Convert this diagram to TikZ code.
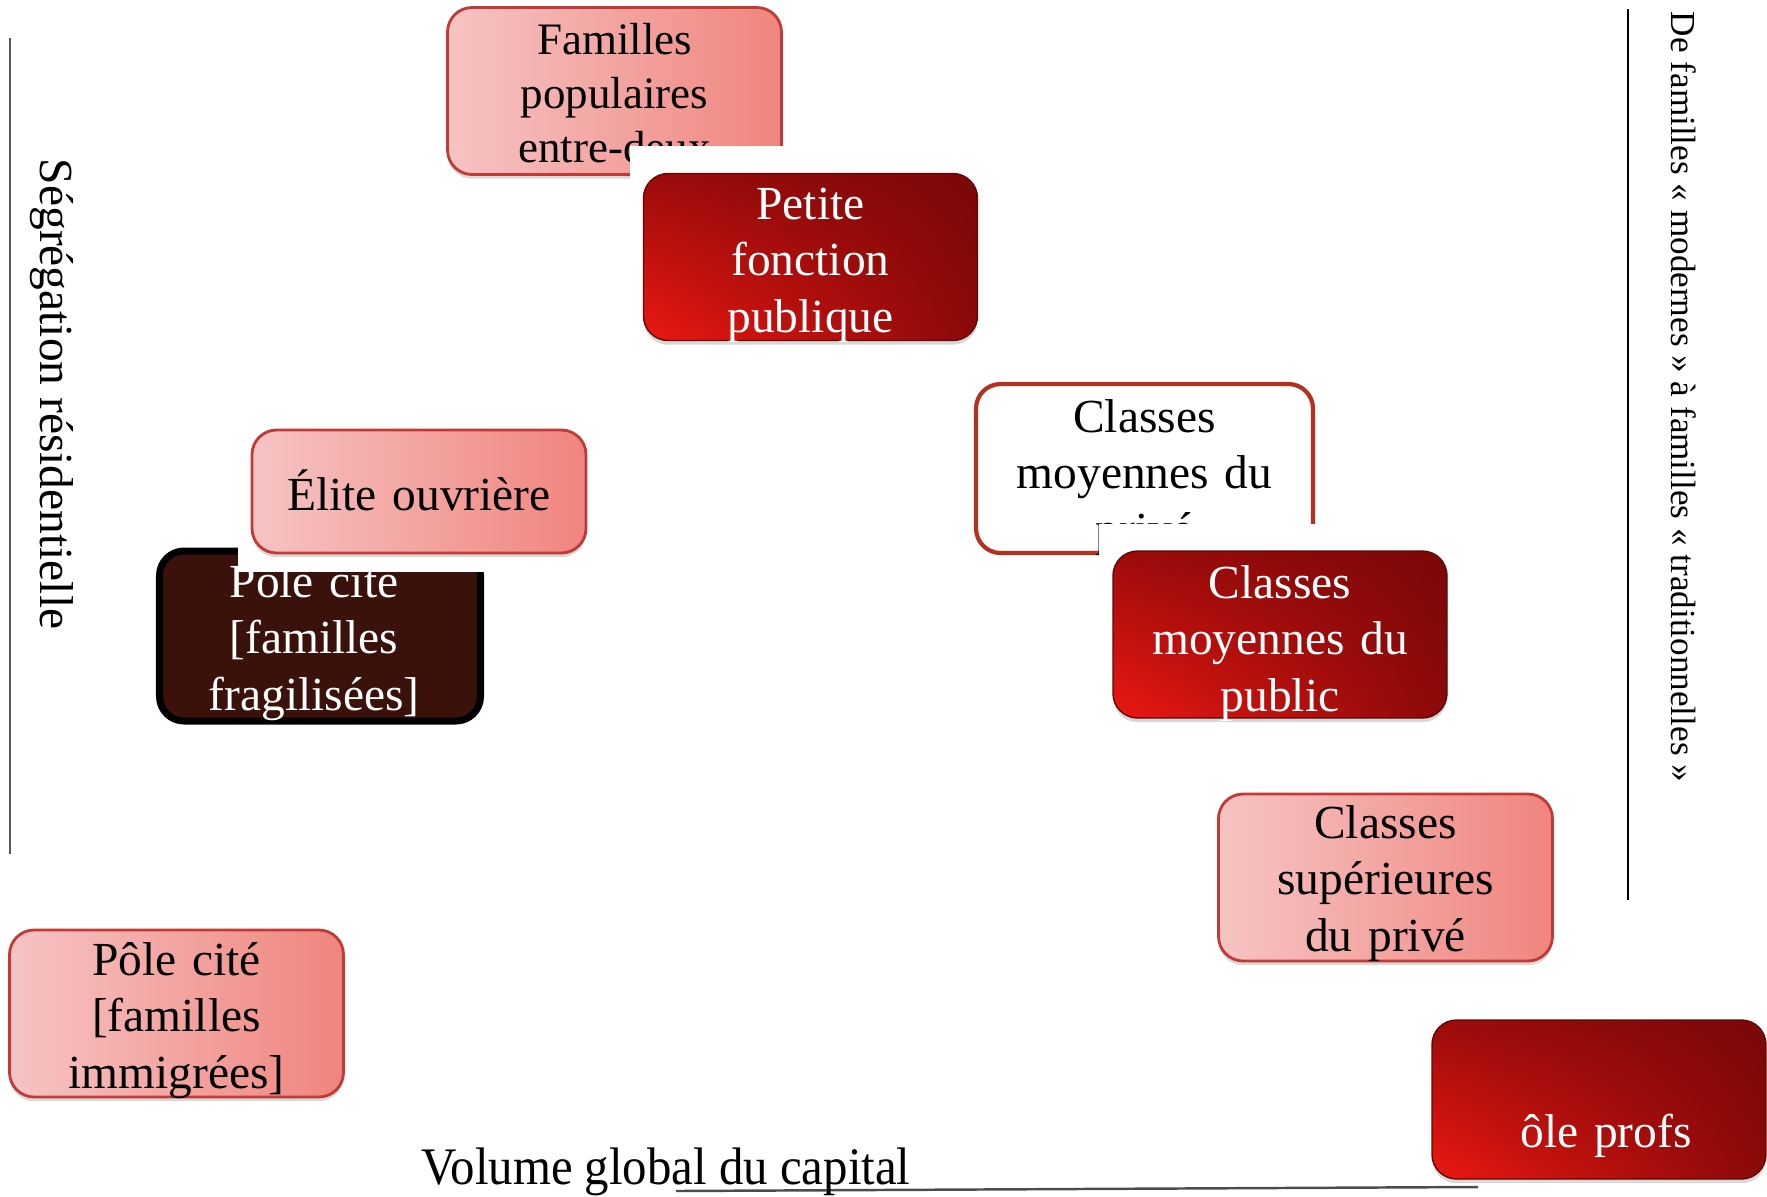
\documentclass[tikz,border=0pt]{standalone}
\usepackage{fontspec}
\setmainfont{Liberation Serif}
\usetikzlibrary{shadows,shadings}

\definecolor{pinkL}{HTML}{F6C4C4}
\definecolor{pinkR}{HTML}{F0857E}
\definecolor{pinkEdge}{HTML}{C23A36}
\definecolor{redUL}{HTML}{9C0B0B}
\definecolor{redLL}{HTML}{EC1812}
\definecolor{redUR}{HTML}{7A0808}
\definecolor{redLR}{HTML}{8A0909}
\definecolor{brownFill}{HTML}{3B110B}
\definecolor{rustEdge}{HTML}{B5301F}

\begin{document}
\begin{tikzpicture}[x=0.1mm, y=-0.1mm,
  every node/.style={inner sep=0pt},
  box/.style={rectangle, rounded corners=7pt, minimum width=33.4mm, minimum height=16.7mm},
  pinkbox/.style={box, draw=pinkEdge, line width=0.8pt, left color=pinkL, right color=pinkR,
    drop shadow={shadow xshift=0pt, shadow yshift=-1.2pt, opacity=0.3}},
  redbox/.style={box, draw=redUR!80!black, line width=0.4pt, upper left=redUL, lower left=redLL,
    upper right=redUR, lower right=redLR,
    drop shadow={shadow xshift=0pt, shadow yshift=-1.2pt, opacity=0.3}},
  cover/.style={fill=white, minimum width=36.2mm, minimum height=21.4mm},
  lbl/.style={text width=45mm, align=center, anchor=base, font=\fontsize{13.5}{16.2}\selectfont},
  axlbl/.style={anchor=base, font=\fontsize{13.5}{16.2}\selectfont}
]
\useasboundingbox (0,0) rectangle (1767,1196);
\clip (0,0) rectangle (1767,1196);

% haut
\node[pinkbox] (fam) at (614.5,91) {};
\node[lbl, font=\fontsize{12.8}{15.5}\selectfont] (famt) at ([yshift=3.7mm]fam.center) {Familles\\populaires\\entre-deux};
\node[cover] (petcov) at (810.5,253) {};
\node[redbox] (pet) at (810.5,257) {};
\node[lbl, text=white] (pett) at ([yshift=3.8mm]pet.center) {Petite\\fonction\\publique};

% gauche
\node[box, draw=black, line width=2pt, fill=brownFill, minimum width=32.1mm, minimum height=17.0mm] (frag) at (320,636) {};
\node[lbl, text=white] (fragt) at ([xshift=-0.6mm, yshift=3.9mm]frag.center) {Pôle cité\\{[}familles\\fragilisées{]}};
\node[cover, minimum height=16.9mm] (elcov) at (419,487.5) {};
\node[pinkbox, minimum height=12.3mm] (elite) at (419,491.5) {};
\node[lbl] (elitet) at ([yshift=-1.85mm]elite.center) {Élite ouvrière};

\node[pinkbox] (imm) at (176.5,1013.5) {};
\node[lbl] (immt) at ([yshift=3.85mm]imm.center) {Pôle cité\\{[}familles\\immigrées{]}};

% droite
\node[box, draw=rustEdge, line width=1.2pt, fill=white, minimum width=33.7mm, minimum height=16.9mm] (priv) at (1144.5,468.5) {};
\node[lbl] (privt) at ([yshift=3.65mm]priv.center) {Classes\\moyennes du\\privé};
\node[cover] (pubcov) at (1280,630.5) {};
\node[redbox] (pub) at (1280,634.5) {};
\node[lbl, text=white] (pubt) at ([yshift=3.65mm]pub.center) {Classes\\moyennes du\\public};

\node[pinkbox] (sup) at (1385.5,877.5) {};
\node[lbl] (supt) at ([yshift=3.95mm]sup.center) {Classes\\supérieures\\du privé};

\node[redbox, minimum height=15.9mm] (prof) at (1599,1099.5) {};
\node[lbl, text=white] (proft) at ([xshift=0.7mm, yshift=-4.75mm]prof.center) {ôle profs};

% axes
\draw[gray!70!black, line width=0.5pt] (10,38) -- (10,854);
\draw[black, line width=0.5pt] (1628,9) -- (1628,900);
\draw[gray!60!black, line width=0.7pt] (676,1191) -- (1478,1187);
\node[axlbl, rotate=-90] (segr) at (40,394) {Ségrégation résidentielle};
\node[axlbl, rotate=-90, font=\fontsize{10}{12}\selectfont] (fams) at (1671,397) {De familles « modernes » à familles « traditionnelles »};
\node[axlbl, font=\fontsize{13.9}{16.7}\selectfont] (vol) at (666,1184) {\scalebox{1}[1.08]{Volume global du capital}};
\end{tikzpicture}
\end{document}
